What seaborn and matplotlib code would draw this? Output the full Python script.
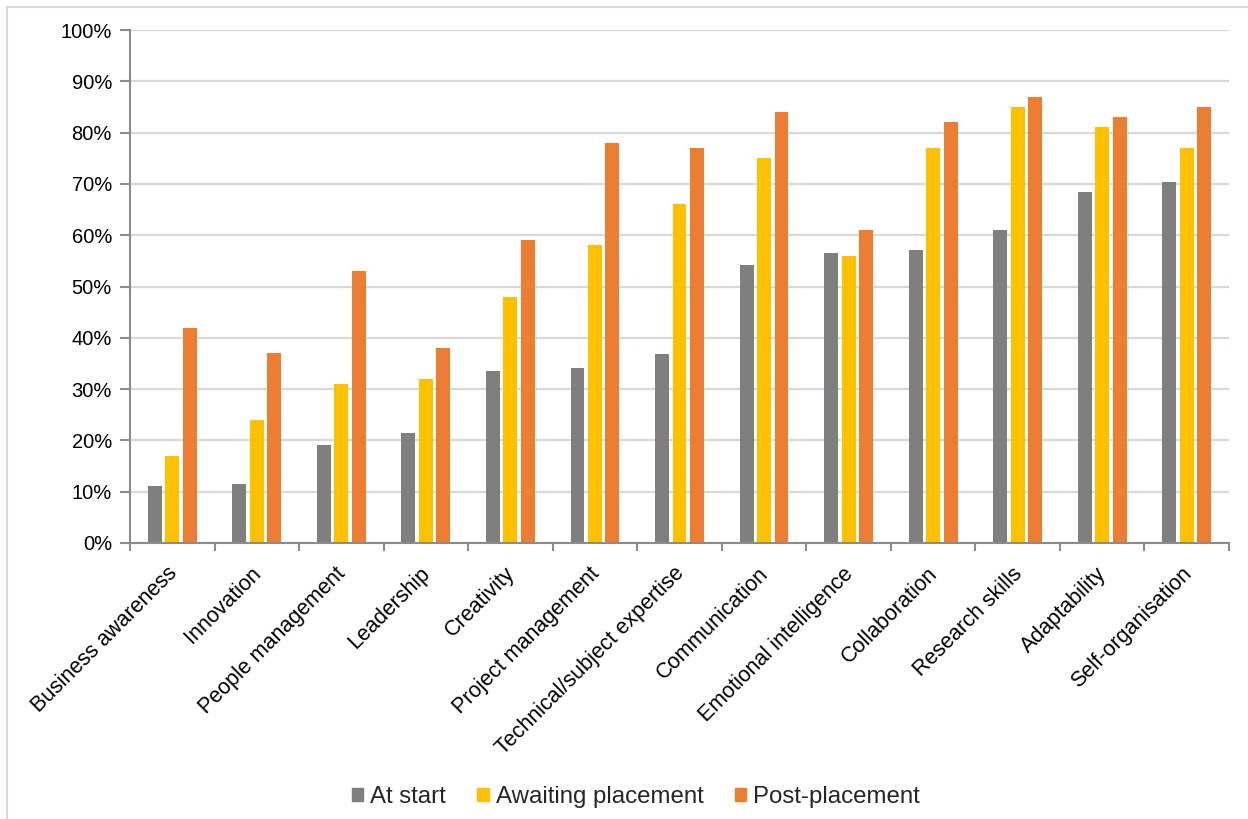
import matplotlib
matplotlib.use("Agg")
import matplotlib.pyplot as plt
from matplotlib.lines import Line2D
from matplotlib.ticker import PercentFormatter, FixedLocator
from matplotlib.transforms import ScaledTranslation
import numpy as np
import pandas as pd
import seaborn as sns

skills = [
    "Business awareness", "Innovation", "People management", "Leadership",
    "Creativity", "Project management", "Technical/subject expertise",
    "Communication", "Emotional intelligence", "Collaboration",
    "Research skills", "Adaptability", "Self-organisation",
]
at_start = [11.1, 11.5, 19.2, 21.4, 33.6, 34.2, 36.8, 54.1, 56.6, 57.1, 61.1, 68.5, 70.4]
awaiting = [17, 24, 31, 32, 48, 58, 66, 75, 56, 77, 85, 81, 77]
post = [42, 37, 53, 38, 59, 78, 77, 84, 61, 82, 87, 83, 85]

stages = ["At start", "Awaiting placement", "Post-placement"]
colors = ["#7f7f7f", "#ffc000", "#ed7d31"]

df = pd.DataFrame({
    "skill": skills * 3,
    "stage": np.repeat(stages, len(skills)),
    "value": at_start + awaiting + post,
})

sns.set_theme(style="white")
plt.rcParams["font.family"] = ["Liberation Sans", "DejaVu Sans"]

W, H = 1248, 819
fig = plt.figure(figsize=(W / 100, H / 100), dpi=100)
ax = fig.add_axes([130 / W, 1 - 543 / H, (1229 - 130) / W, (543 - 30) / H])

sns.barplot(
    data=df, x="skill", y="value", hue="stage", order=skills,
    hue_order=stages, palette=colors, width=0.62, gap=0.2,
    saturation=1, ax=ax, legend=True, edgecolor="none",
)

axis_color = "#8c8c8c"
ax.set_ylim(0, 100)
ax.set_xlim(-0.5, len(skills) - 0.5)
ax.yaxis.set_major_locator(FixedLocator(np.arange(0, 101, 10)))
ax.yaxis.set_major_formatter(PercentFormatter(decimals=0))
ax.grid(axis="y", color="#d9d9d9", linewidth=1.6, zorder=0)
ax.set_axisbelow(True)
ax.set_xlabel("")
ax.set_ylabel("")

for side in ["top", "right"]:
    ax.spines[side].set_visible(False)
for side in ["left", "bottom"]:
    ax.spines[side].set_color(axis_color)
    ax.spines[side].set_linewidth(1.5)

# category labels at bar-group centres, tick marks at group boundaries
ax.set_xticks(np.arange(len(skills)))
ax.set_xticklabels(skills, rotation=45, ha="right", rotation_mode="anchor",
                   fontsize=15.5, color="#000000")
ax.set_xticks(np.arange(-0.5, len(skills)), minor=True)
ax.tick_params(axis="x", which="major", length=0, pad=14.5)
ax.tick_params(axis="x", which="minor", length=6, width=1.5, color=axis_color,
               direction="out", bottom=True)
ax.tick_params(axis="y", length=7, width=1.5, color=axis_color, direction="out",
               left=True, labelsize=14.5, labelcolor="#000000", pad=6)

shift = ScaledTranslation(-6 / 100, 0, fig.dpi_scale_trans)
for lab in ax.get_xticklabels():
    lab.set_transform(lab.get_transform() + shift)

handles = [plt.Rectangle((0, 0), 1, 1, color=c) for c in colors]
ax.legend(handles, stages, loc="center", bbox_to_anchor=(636 / W, 1 - 797 / H),
          bbox_transform=fig.transFigure, ncol=3, frameon=False, fontsize=17.3,
          handlelength=0.47, handleheight=0.47, handletextpad=0.3,
          columnspacing=1.3, borderpad=0)

# light outline of the chart area
fig.add_artist(Line2D([7 / W, 1.0], [1 - 7 / H, 1 - 7 / H],
                      transform=fig.transFigure, color="#d9d9d9", linewidth=1.5))
fig.add_artist(Line2D([7 / W, 7 / W], [1 - 7 / H, 0.0],
                      transform=fig.transFigure, color="#d9d9d9", linewidth=1.5))

fig.savefig("out.png", dpi=100, facecolor="white")
